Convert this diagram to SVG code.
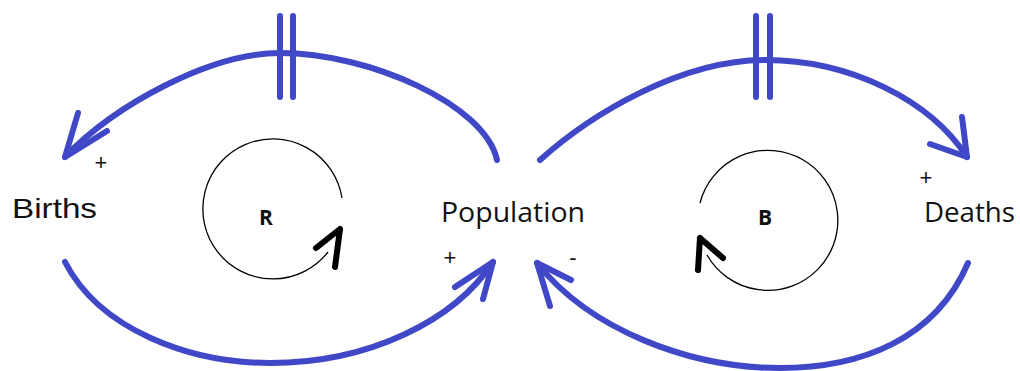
<svg xmlns="http://www.w3.org/2000/svg" width="1020" height="371" viewBox="0 0 1020 371">
<style>
.link{fill:none;stroke:#4048c8;stroke-width:6;stroke-linecap:round;stroke-linejoin:round}
.loop{fill:none;stroke:#000;stroke-width:1.3}
.loophead{fill:none;stroke:#000;stroke-width:6;stroke-linecap:round;stroke-linejoin:round}
.lbl{font-family:"Open Sans","Liberation Sans",sans-serif;font-size:28px;fill:#111}
.lblA{font-family:"Liberation Sans",Arial,sans-serif;font-size:28px;fill:#111}
.sign{font-family:"Liberation Sans",Arial,sans-serif;font-size:22px;fill:#111;text-anchor:middle}
.loopl{font-family:"Open Sans","Liberation Sans",sans-serif;font-size:21px;font-weight:bold;fill:#111;text-anchor:middle}
</style>
<rect width="1020" height="371" fill="#fff"/>
<g id="connectors">
  <!-- Population -> Births (top, delayed) -->
  <path class="link" d="M497,160 C485,105 370,53 280,53 C210,53 115,105 65,157"/>
  <path class="link" d="M78,113 L65,157 L107,131"/>
  <path class="link" d="M280,16 V97 M293,16 V97"/>
  <!-- Births -> Population (bottom) -->
  <path class="link" d="M65,262 C100,330 190,363 270,363 C370,363 455,320 493,262"/>
  <path class="link" d="M455,287 L493,262 L483,299"/>
  <!-- Population -> Deaths (top, delayed) -->
  <path class="link" d="M540,160 C590,115 680,60 765,60 C850,60 930,100 967,157"/>
  <path class="link" d="M962,117 L967,157 L930,144"/>
  <path class="link" d="M756,16 V97 M770,16 V97"/>
  <!-- Deaths -> Population (bottom) -->
  <path class="link" d="M968,263 C935,340 860,368 780,368 C690,368 590,330 537,263"/>
  <path class="link" d="M550,306 L537,263 L571,280"/>
</g>
<g id="loop-R">
  <path class="loop" d="M342,198 A70,70 0 1,0 328,252"/>
  <path class="loophead" d="M335,267 L340,229 M316,248 L340,229"/>
  <text class="loopl" x="266" y="225">R</text>
</g>
<g id="loop-B">
  <path class="loop" d="M700,203 A70,70 0 1,1 707,255"/>
  <path class="loophead" d="M698,270 L700,238 M723,258 L700,238"/>
  <text class="loopl" x="765" y="225">B</text>
</g>
<g id="births">
  <text class="lblA" x="12" y="218" textLength="85" lengthAdjust="spacingAndGlyphs">Births</text>
</g>
<g id="population">
  <text class="lbl" x="441" y="222" textLength="144" lengthAdjust="spacingAndGlyphs">Population</text>
</g>
<g id="deaths">
  <text class="lbl" x="924" y="222" textLength="91" lengthAdjust="spacingAndGlyphs">Deaths</text>
</g>
<g id="signs">
  <text class="sign" x="101" y="170">+</text>
  <text class="sign" x="450" y="265">+</text>
  <text class="sign" x="573" y="265">-</text>
  <text class="sign" x="926" y="185">+</text>
</g>
</svg>
